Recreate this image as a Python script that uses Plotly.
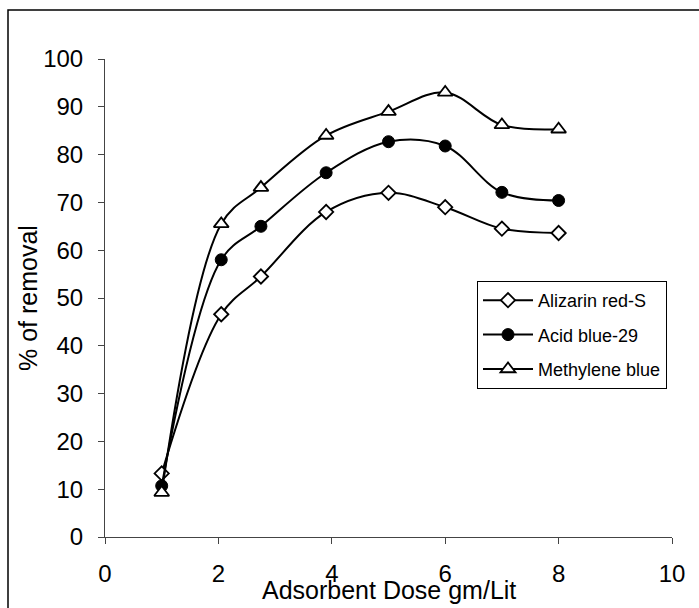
import plotly.graph_objects as go

dose = [1, 2.05, 2.75, 3.9, 5, 6, 7, 8]
alizarin = [13.3, 46.6, 54.5, 68.0, 72.0, 69.0, 64.5, 63.6]
acid_blue = [10.7, 58.0, 65.0, 76.2, 82.7, 81.8, 72.1, 70.4]
methylene = [9.3, 65.5, 73.1, 84.0, 89.0, 93.0, 86.2, 85.3]

series = [
    ("Alizarin red-S", alizarin, dict(symbol="diamond", size=11, color="white", line=dict(color="black", width=1.8))),
    ("Acid blue-29", acid_blue, dict(symbol="circle", size=12, color="black", line=dict(color="black", width=1))),
    ("Methylene blue", methylene, dict(symbol="triangle-up", size=13, color="white", line=dict(color="black", width=1.8))),
]

fig = go.Figure()
for i, (name, vals, mk) in enumerate(series):
    fig.add_trace(go.Scatter(
        x=dose, y=vals, name=name, mode="lines+markers",
        line=dict(color="black", width=2, shape="spline", smoothing=1.0),
        marker=mk, legendgroup=f"g{i}",
    ))

W, H = 699, 608
L, R, T, B = 105, 27, 59, 71
pw, ph = W - L - R, H - T - B

def px_x(p):
    return (p - L) / pw

def px_y(p):
    return (H - B - p) / ph

fig.update_layout(
    width=W, height=H,
    margin=dict(l=L, r=R, t=T, b=B),
    paper_bgcolor="white", plot_bgcolor="white",
    font=dict(family="Liberation Sans, Arial, sans-serif", color="black", size=24),
    showlegend=True,
    legend=dict(
        x=px_x(477), y=px_y(281), xanchor="left", yanchor="top",
        bordercolor="black", borderwidth=1, bgcolor="white",
        font=dict(size=18), traceorder="grouped", tracegroupgap=8,
        itemwidth=50,
    ),
    xaxis=dict(
        range=[0, 10], dtick=2, tick0=0, showgrid=False, zeroline=False,
        showline=True, linecolor="#444444", linewidth=1,
        ticks="outside", ticklen=6, tickcolor="#444444",
        tickfont=dict(size=24), ticklabelstandoff=9,
    ),
    yaxis=dict(
        range=[0, 100], dtick=10, tick0=0, showgrid=False, zeroline=False,
        showline=True, linecolor="#444444", linewidth=1,
        ticks="outside", ticklen=6, tickcolor="#444444",
        tickfont=dict(size=24), ticklabelstandoff=10,
    ),
    annotations=[
        dict(text="Adsorbent Dose gm/Lit", xref="paper", yref="paper", x=0.5, y=0,
             xanchor="center", yanchor="middle", yshift=-(590 - (H - B)), showarrow=False,
             font=dict(size=25)),
        dict(text="% of removal", xref="paper", yref="paper", x=0, y=0.5,
             xanchor="center", yanchor="middle", xshift=-(L - 28), textangle=-90,
             showarrow=False, font=dict(size=25)),
    ],
    shapes=[
        dict(type="rect", xref="paper", yref="paper",
             x0=px_x(8), x1=px_x(700), y0=px_y(615), y1=px_y(10),
             line=dict(color="black", width=1.5), fillcolor="rgba(0,0,0,0)", layer="below"),
    ],
)

fig.write_html("out.html")
